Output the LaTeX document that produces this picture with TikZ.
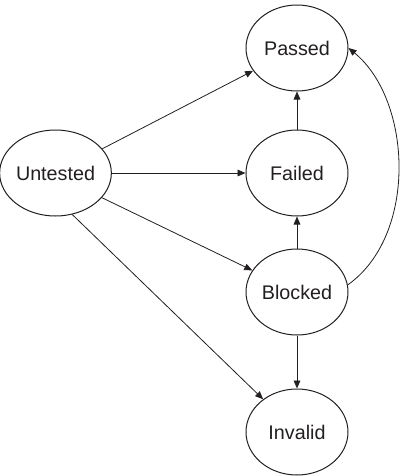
\documentclass[tikz,border=0pt]{standalone}
\usepackage{fontspec}
\setmainfont{Liberation Sans}
\usetikzlibrary{shapes.geometric,arrows.meta}

\definecolor{ink}{RGB}{35,31,32}
\tikzset{every picture/.style={line width=0.75pt}}
\tikzset{
  state/.style={draw=ink,ellipse,inner sep=0pt,minimum width=76.5pt,minimum height=64.5pt,
    text=ink,font=\fontsize{14.8}{16}\selectfont},
  trans/.style={draw=ink,line width=0.6pt,-{Triangle[length=6pt,width=5pt]}}
}

\begin{document}
\begin{tikzpicture}[x=0.75pt,y=0.75pt,yscale=-1,xscale=1]
\useasboundingbox (0,0) rectangle (400,476);

%States
\node[state] (untested) at (55.5,173) {Untested};
\node[state] (passed) at (297,48) {Passed};
\node[state] (failed) at (297,173) {Failed};
\node[state] (blocked) at (297,292) {Blocked};
\node[state] (invalid) at (297,432) {Invalid};

%Transitions from Untested
\draw[trans] (untested) -- (passed);
\draw[trans] (untested) -- (failed);
\draw[trans] (untested.-28) -- (blocked);
\draw[trans] (untested.-68) -- (invalid);

%Vertical transitions
\draw[trans] (failed) -- (passed);
\draw[trans] (blocked) -- (failed);
\draw[trans] (blocked) -- (invalid);

%Curved transition back to Passed
\draw[trans] (blocked.8) .. controls (418,235) and (412,100) .. (passed.east);

\end{tikzpicture}
\end{document}
